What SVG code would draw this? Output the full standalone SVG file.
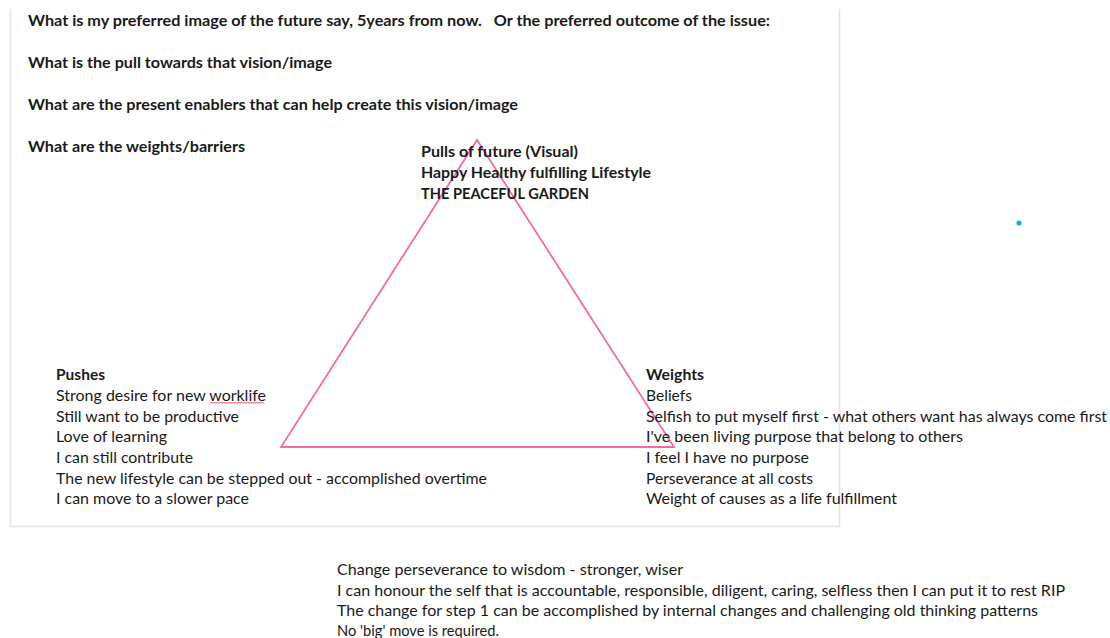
<svg xmlns="http://www.w3.org/2000/svg" width="1110" height="638" viewBox="0 0 1110 638">
<style>
text{font-family:Lato,"Open Sans","Liberation Sans",sans-serif;font-size:15px;fill:#1a1a1a}
.b{font-weight:bold}
</style>
<rect width="1110" height="638" fill="#ffffff"/>
<path id="frame" d="M10.5 9 V526.5 H839.5 V9" fill="none" stroke="#e4e4e4" stroke-width="1.5"/>
<g id="triangle">
<polygon points="477,140 281,447 674,447" fill="none" stroke="#f56aa6" stroke-width="1.8"/>
</g>
<g id="questions">
<text class="b" x="28" y="26" textLength="742" lengthAdjust="spacingAndGlyphs" xml:space="preserve">What is my preferred image of the future say, 5years from now.   Or the preferred outcome of the issue:</text>
<text class="b" x="28" y="68" textLength="304" lengthAdjust="spacingAndGlyphs">What is the pull towards that vision/image</text>
<text class="b" x="28" y="110" textLength="490" lengthAdjust="spacingAndGlyphs">What are the present enablers that can help create this vision/image</text>
<text class="b" x="28" y="152" textLength="217" lengthAdjust="spacingAndGlyphs">What are the weights/barriers</text>
</g>
<g id="pulls">
<text class="b" x="421" y="157" textLength="157" lengthAdjust="spacingAndGlyphs">Pulls of future (Visual)</text>
<text class="b" x="421" y="178" textLength="230" lengthAdjust="spacingAndGlyphs">Happy Healthy fulfilling Lifestyle</text>
<text class="b" x="421" y="199" textLength="168" lengthAdjust="spacingAndGlyphs">THE PEACEFUL GARDEN</text>
</g>
<g id="pushes">
<text class="b" x="56" y="380" textLength="49" lengthAdjust="spacingAndGlyphs">Pushes</text>
<text x="56" y="401" textLength="210" lengthAdjust="spacingAndGlyphs">Strong desire for new worklife</text>
<text x="56" y="422" textLength="183" lengthAdjust="spacingAndGlyphs">Still want to be productive</text>
<text x="56" y="442" textLength="111" lengthAdjust="spacingAndGlyphs">Love of learning</text>
<text x="56" y="463" textLength="137" lengthAdjust="spacingAndGlyphs">I can still contribute</text>
<text x="56" y="484" textLength="431" lengthAdjust="spacingAndGlyphs">The new lifestyle can be stepped out - accomplished overtime</text>
<text x="56" y="504" textLength="193" lengthAdjust="spacingAndGlyphs">I can move to a slower pace</text>
<path d="M210 403.5 l1.5 -1.5 l1.5 1.5 l1.5 -1.5 l1.5 1.5 l1.5 -1.5 l1.5 1.5 l1.5 -1.5 l1.5 1.5 l1.5 -1.5 l1.5 1.5 l1.5 -1.5 l1.5 1.5 l1.5 -1.5 l1.5 1.5 l1.5 -1.5 l1.5 1.5 l1.5 -1.5 l1.5 1.5 l1.5 -1.5 l1.5 1.5 l1.5 -1.5 l1.5 1.5 l1.5 -1.5 l1.5 1.5 l1.5 -1.5 l1.5 1.5 l1.5 -1.5 l1.5 1.5 l1.5 -1.5 l1.5 1.5 l1.5 -1.5 l1.5 1.5 l1.5 -1.5 l1.5 1.5 l1.5 -1.5 l1.5 1.5" fill="none" stroke="#e03030" stroke-width="0.9"/>
</g>
<g id="weights">
<text class="b" x="646" y="380" textLength="58" lengthAdjust="spacingAndGlyphs">Weights</text>
<text x="646" y="401" textLength="46" lengthAdjust="spacingAndGlyphs">Beliefs</text>
<text x="646" y="422" textLength="461" lengthAdjust="spacingAndGlyphs">Selfish to put myself first - what others want has always come first</text>
<text x="646" y="442" textLength="317" lengthAdjust="spacingAndGlyphs">I've been living purpose that belong to others</text>
<text x="646" y="463" textLength="163" lengthAdjust="spacingAndGlyphs">I feel I have no purpose</text>
<text x="646" y="484" textLength="167" lengthAdjust="spacingAndGlyphs">Perseverance at all costs</text>
<text x="646" y="504" textLength="251" lengthAdjust="spacingAndGlyphs">Weight of causes as a life fulfillment</text>
</g>
<g id="notes">
<text x="337" y="575" textLength="346" lengthAdjust="spacingAndGlyphs">Change perseverance to wisdom - stronger, wiser</text>
<text x="337" y="596" textLength="728" lengthAdjust="spacingAndGlyphs">I can honour the self that is accountable, responsible, diligent, caring, selfless then I can put it to rest RIP</text>
<text x="337" y="616" textLength="701" lengthAdjust="spacingAndGlyphs">The change for step 1 can be accomplished by internal changes and challenging old thinking patterns</text>
<text x="337" y="635.5" textLength="162" lengthAdjust="spacingAndGlyphs">No 'big' move is required.</text>
</g>
<circle id="dot" cx="1019" cy="223" r="2.6" fill="#00b0f0"/>
</svg>
